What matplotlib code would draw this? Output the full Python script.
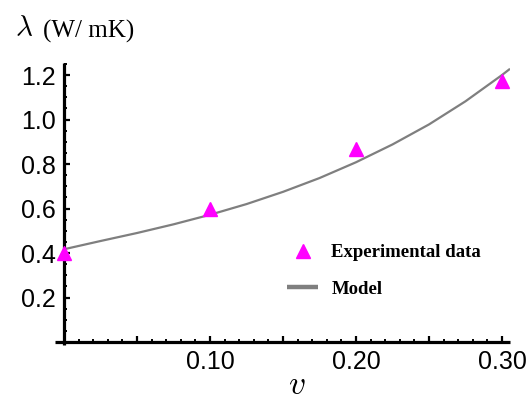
import numpy as np
import matplotlib
matplotlib.use("Agg")
import matplotlib.pyplot as plt
from matplotlib.lines import Line2D
from matplotlib.ticker import MultipleLocator, FixedLocator, FixedFormatter

# experimental points
exp_v = [0.0, 0.10, 0.20, 0.30]
exp_k = [0.40, 0.60, 0.866, 1.172]

# model curve
model_v = [0.0, 0.025, 0.05, 0.075, 0.10, 0.125, 0.15, 0.175, 0.20, 0.225, 0.25, 0.275, 0.30, 0.3055]
model_k = [0.417, 0.454, 0.490, 0.529, 0.572, 0.620, 0.675, 0.737, 0.808, 0.888, 0.978, 1.082, 1.200, 1.228]

x_ticks = [0.05, 0.10, 0.15, 0.20, 0.25, 0.30]
x_labels = ["", "0.10", "", "0.20", "", "0.30"]
y_ticks = [0.2, 0.4, 0.6, 0.8, 1.0, 1.2]
y_labels = ["0.2", "0.4", "0.6", "0.8", "1.0", "1.2"]

plt.rcParams["mathtext.fontset"] = "cm"

fig = plt.figure(figsize=(5.3, 4.05), dpi=100)
ax = fig.add_axes([0.1038, 0.1481, 0.8585, 0.6963])

ax.plot(model_v, model_k, color="#7f7f7f", lw=1.6, solid_capstyle="butt",
        solid_joinstyle="round", zorder=2)
ax.plot(exp_v, exp_k, ls="none", marker="^", ms=10.5, color="#ff00ff", mec="#ff00ff", zorder=3,
        clip_on=False)

ax.set_xlim(-0.0062, 0.3055)
ax.set_ylim(-0.0135, 1.254)

for s in ["top", "right"]:
    ax.spines[s].set_visible(False)
ax.spines["left"].set_position(("data", 0))
ax.spines["bottom"].set_position(("data", 0))
for s in ["left", "bottom"]:
    ax.spines[s].set_linewidth(2.3)
    ax.spines[s].set_capstyle("butt")

ax.xaxis.set_major_locator(FixedLocator(x_ticks))
ax.xaxis.set_major_formatter(FixedFormatter(x_labels))
ax.xaxis.set_minor_locator(MultipleLocator(0.01))
ax.yaxis.set_major_locator(FixedLocator(y_ticks))
ax.yaxis.set_minor_locator(MultipleLocator(0.05))
ax.yaxis.set_major_formatter(FixedFormatter(y_labels))

ax.tick_params(which="major", direction="in", length=4.5, width=1.6, pad=6,
               labelsize=18, labelfontfamily="Liberation Sans")
ax.tick_params(which="minor", direction="in", length=2.5, width=1.4)

# axis labels
fig.text(15 / 530, 1 - 28 / 405, r"$\lambda$", fontsize=21, ha="left", va="center")
fig.text(43 / 530, 1 - 31 / 405, "(W/ mK)", fontsize=18, family="Liberation Serif",
         ha="left", va="center")
fig.text(297 / 530, 1 - 385 / 405, r"$v$", fontsize=24, ha="center", va="center")

handles = [
    Line2D([], [], ls="none", marker="^", ms=10.5, color="#ff00ff"),
    Line2D([], [], color="#7f7f7f", lw=3.2, solid_capstyle="butt"),
]
ax.legend(handles, ["Experimental data", "Model"], loc="upper left",
          bbox_to_anchor=(287 / 530, 1 - 244 / 405), bbox_transform=fig.transFigure,
          frameon=False, borderpad=0, borderaxespad=0, handlelength=1.67,
          handletextpad=0.7, labelspacing=1.05,
          prop={"family": "Liberation Serif", "weight": "bold", "size": 13.5})

fig.savefig("out.png", dpi=100)
